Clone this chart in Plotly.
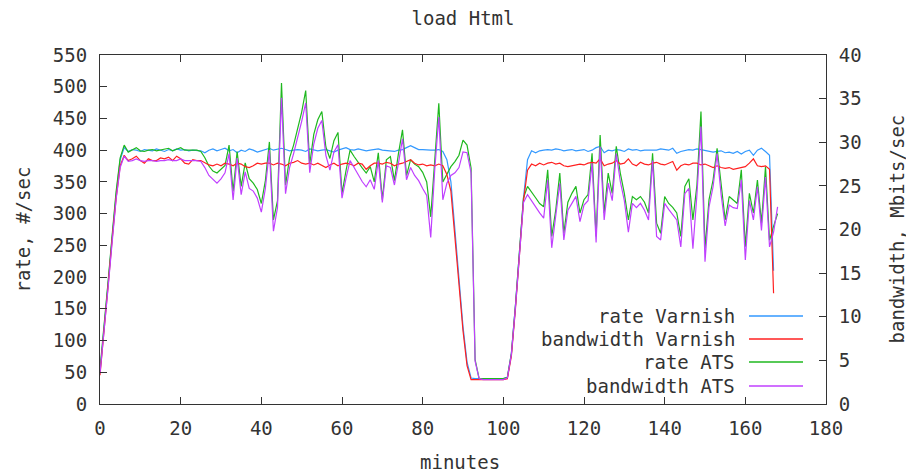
import plotly.graph_objects as go

# ---------------- data ----------------
minutes_varnish = list(range(0, 168))
minutes_ats = list(range(0, 169))

rate_varnish = [
    50, 115, 190, 262, 330, 385, 404, 398, 401, 400,
    398, 401, 400, 399, 402, 400, 398, 401, 399, 402,
    400, 401, 399, 400, 400, 399, 396, 400, 402, 399,
    401, 403, 399, 401, 396, 400, 398, 402, 400, 397,
    399, 401, 403, 400, 402, 403, 401, 399, 400, 401,
    400, 398, 402, 401, 399, 400, 401, 399, 397, 400,
    402, 404, 401, 400, 402, 401, 399, 400, 401, 402,
    400, 399, 398, 398, 400, 401, 404, 407, 404, 401,
    401, 400, 400, 400, 401, 398, 385, 350, 272, 198,
    122, 66, 41, 40, 40, 40, 40, 40, 40, 40,
    40, 42, 80, 155, 245, 325, 385, 399, 396, 399,
    400, 401, 400, 402, 401, 399, 400, 401, 399, 400,
    401, 398, 400, 404, 406, 396, 400, 399, 401, 400,
    398, 402, 400, 401, 399, 400, 400, 401, 400, 402,
    401, 400, 403, 395, 398, 400, 401, 400, 402, 401,
    400, 398, 397, 398, 399, 396, 397, 395, 398, 394,
    398, 400, 392, 400, 403, 398, 392, 210,
]

bandwidth_varnish = [  # Mbits/sec
    3.3, 8.0, 13.5, 18.8, 23.6, 27.3, 28.5, 27.9, 28.1, 28.4,
    27.9, 27.6, 28.1, 27.9, 27.9, 28.2, 28.1, 28.3, 27.9, 28.4,
    28.1, 27.6, 27.5, 28.0, 27.9, 27.9, 27.6, 27.4, 27.3, 27.5,
    27.3, 27.6, 27.5, 27.3, 27.6, 27.5, 27.2, 27.1, 27.3, 27.6,
    27.5, 27.6, 27.6, 27.4, 27.6, 27.5, 27.3, 27.6, 27.7, 27.9,
    27.6, 27.5, 27.6, 27.4, 27.6, 27.3, 27.1, 27.4, 27.6, 27.3,
    27.5, 27.6, 27.5, 27.3, 27.6, 27.5, 26.9, 27.3, 27.6, 27.6,
    27.5, 27.7, 27.6, 27.3, 27.5, 27.6, 27.8, 28.0, 27.6, 27.4,
    27.5, 27.3, 27.4, 27.3, 27.5, 27.3, 26.3, 24.4, 19.1, 14.0,
    8.4, 4.4, 2.8, 2.8, 2.8, 2.8, 2.8, 2.8, 2.8, 2.8,
    2.8, 2.9, 5.5, 10.9, 17.5, 23.3, 26.8, 27.5, 27.3, 27.6,
    27.4, 27.6, 27.7, 27.5, 27.6, 27.3, 27.2, 27.3, 27.4, 27.5,
    27.4, 27.6, 27.7, 27.6, 28.1, 27.3, 27.5, 27.6, 27.9, 27.5,
    27.6, 28.1, 27.5, 27.3, 27.7, 27.5, 27.4, 27.6, 27.7, 27.5,
    27.4, 27.6, 27.8, 26.8, 27.3, 27.5, 27.4, 27.6, 27.6, 27.4,
    27.5, 27.3, 27.1, 27.3, 27.1, 27.0, 27.1, 26.9, 27.0, 27.1,
    27.2, 27.6, 28.1, 27.3, 27.2, 27.3, 26.9, 12.7,
]

rate_ats = [
    55, 118, 192, 265, 335, 388, 408, 397, 401, 404,
    399, 398, 400, 401, 399, 400, 402, 403, 399, 401,
    404, 400, 400, 399, 400, 398, 388, 375, 367, 364,
    370, 376, 408, 335, 398, 343, 380, 355, 348, 338,
    316, 352, 413, 290, 320, 506, 345, 388, 408, 432,
    460, 494, 378, 425, 448, 461, 405, 387, 415, 428,
    332, 368, 400, 390, 380, 372, 364, 374, 350, 396,
    322, 385, 390, 352, 395, 432, 360, 385, 378, 374,
    365, 350, 295, 385, 474, 350, 362, 374, 382, 392,
    416, 408, 372, 70, 40, 40, 40, 40, 40, 40,
    40, 42, 80, 155, 240, 325, 343, 333, 325, 316,
    311, 369, 264, 306, 364, 269, 318, 332, 343, 301,
    322, 330, 395, 264, 424, 301, 364, 332, 406, 364,
    332, 290, 327, 322, 327, 318, 301, 395, 285, 269,
    327, 316, 310, 301, 264, 343, 355, 290, 345, 461,
    245, 322, 353, 403, 343, 290, 327, 322, 316, 369,
    248, 332, 301, 353, 285, 374, 258, 280, 300,
]

bandwidth_ats = [  # Mbits/sec
    3.5, 8.0, 13.3, 18.5, 23.5, 27.1, 28.4, 27.8, 27.9, 28.1,
    27.9, 27.8, 27.9, 27.9, 27.8, 27.9, 27.9, 28.0, 27.9, 27.9,
    28.1, 27.9, 27.9, 27.9, 27.9, 27.8, 27.1, 26.2, 25.7, 25.3,
    25.8, 26.5, 28.7, 23.4, 28.2, 24.0, 26.6, 24.7, 24.4, 23.6,
    22.0, 24.7, 29.1, 19.8, 22.5, 35.1, 24.1, 27.1, 28.7, 30.4,
    32.4, 34.5, 26.5, 29.8, 31.6, 32.5, 28.5, 26.8, 28.9, 29.7,
    23.6, 25.9, 27.9, 27.1, 26.3, 25.5, 24.9, 25.7, 24.6, 27.9,
    23.1, 27.3, 27.1, 25.1, 27.6, 30.4, 25.7, 27.1, 26.2, 25.6,
    24.7, 23.9, 19.1, 26.9, 32.9, 23.4, 25.3, 26.2, 26.5, 27.1,
    28.9, 28.8, 26.5, 4.9, 2.9, 2.8, 2.8, 2.8, 2.8, 2.8,
    2.8, 3.0, 5.7, 11.1, 17.2, 23.1, 24.0, 23.3, 22.5, 21.9,
    21.3, 25.7, 17.9, 21.6, 25.3, 18.8, 22.2, 23.0, 23.8, 20.9,
    22.8, 23.3, 27.6, 18.5, 29.5, 21.1, 25.3, 23.3, 28.7, 25.5,
    23.3, 19.7, 23.0, 22.5, 23.0, 22.2, 21.1, 27.9, 19.2, 18.8,
    23.0, 22.3, 21.7, 21.1, 18.0, 24.1, 24.7, 17.8, 24.0, 31.8,
    16.3, 22.6, 24.9, 28.7, 24.0, 20.4, 22.8, 22.5, 22.4, 25.7,
    16.5, 23.3, 21.1, 24.9, 19.9, 26.0, 18.0, 19.7, 22.6,
]

series_names = ["rate Varnish", "bandwidth Varnish", "rate ATS", "bandwidth ATS"]
series_colors = ["#3399ff", "#ff2020", "#1fb81f", "#c040ff"]

x_ticks = list(range(0, 181, 20))
y_ticks = list(range(0, 551, 50))
y2_ticks = list(range(0, 41, 5))

# ---------------- figure ----------------
FONT = "DejaVu Sans Mono"
FS = 19
TXT = "#333333"

fig = go.Figure()
fig.add_trace(go.Scatter(x=minutes_varnish, y=rate_varnish, name=series_names[0],
                         mode="lines", line=dict(color=series_colors[0], width=1.2), yaxis="y"))
fig.add_trace(go.Scatter(x=minutes_varnish, y=bandwidth_varnish, name=series_names[1],
                         mode="lines", line=dict(color=series_colors[1], width=1.2), yaxis="y2"))
fig.add_trace(go.Scatter(x=minutes_ats, y=rate_ats, name=series_names[2],
                         mode="lines", line=dict(color=series_colors[2], width=1.2), yaxis="y"))
fig.add_trace(go.Scatter(x=minutes_ats, y=bandwidth_ats, name=series_names[3],
                         mode="lines", line=dict(color=series_colors[3], width=1.2), yaxis="y2"))

W, H = 906, 473
L, R, T, B = 100, 80, 55, 69
pw, ph = W - L - R, H - T - B


def px(xp):
    return (xp - L) / pw


def py(yp):
    return (H - B - yp) / ph


axis_common = dict(showline=True, linecolor="#333333", linewidth=1, ticks="inside",
                   ticklen=7, tickcolor="#333333", showgrid=False, zeroline=False,
                   tickfont=dict(family=FONT, size=FS, color=TXT))

fig.update_layout(
    width=W, height=H,
    margin=dict(l=L, r=R, t=T, b=B),
    paper_bgcolor="white", plot_bgcolor="white",
    showlegend=False,
    title=dict(text="load Html", x=(L + pw / 2) / W, xanchor="center",
               y=1 - 18 / H, yanchor="middle",
               font=dict(family=FONT, size=FS, color=TXT)),
    xaxis=dict(range=[0, 180], tickvals=x_ticks, mirror="ticks",
               ticklabelstandoff=7, **axis_common),
    yaxis=dict(range=[0, 550], tickvals=y_ticks, ticklabelstandoff=8, **axis_common),
    yaxis2=dict(range=[0, 40], tickvals=y2_ticks, overlaying="y", side="right",
                ticklabelstandoff=8, **axis_common),
)

ann_font = dict(family=FONT, size=FS, color=TXT)
annotations = [
    dict(text="minutes", x=px(460), y=py(462), xref="paper", yref="paper",
         showarrow=False, xanchor="center", yanchor="middle", font=ann_font),
    dict(text="rate, #/sec", x=px(22), y=0.5, xref="paper", yref="paper",
         showarrow=False, xanchor="center", yanchor="middle", textangle=-90, font=ann_font),
    dict(text="bandwidth, Mbits/sec", x=px(896), y=0.5, xref="paper", yref="paper",
         showarrow=False, xanchor="center", yanchor="middle", textangle=-90, font=ann_font),
]

legend_rows = [316, 339, 362, 386]
shapes = []
for name, color, yrow in zip(series_names, series_colors, legend_rows):
    annotations.append(dict(text=name, x=px(737), y=py(yrow), xref="paper", yref="paper",
                            showarrow=False, xanchor="right", yanchor="middle", font=ann_font))
    shapes.append(dict(type="line", xref="paper", yref="paper",
                       x0=px(749), x1=px(803), y0=py(yrow), y1=py(yrow),
                       line=dict(color=color, width=1.5)))

fig.update_layout(annotations=annotations, shapes=shapes)

fig.write_html("out.html")
